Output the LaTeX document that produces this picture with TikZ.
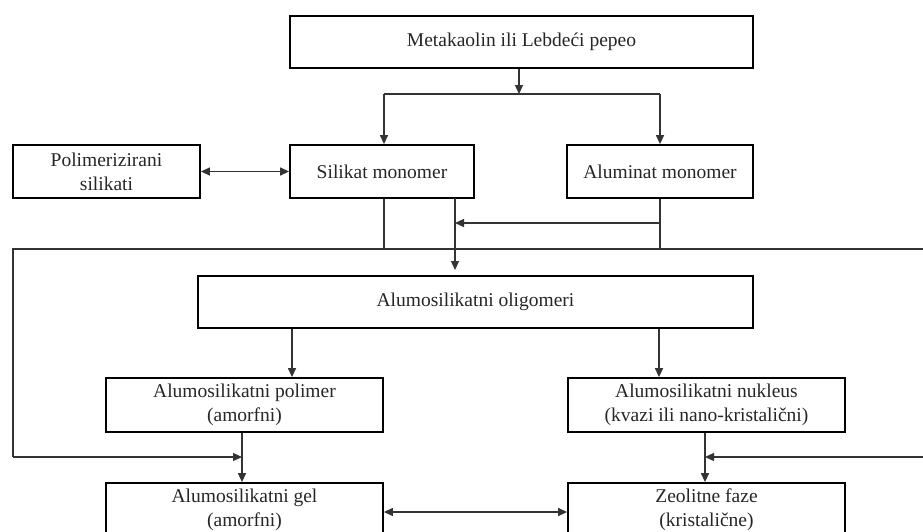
\documentclass[tikz,border=0pt]{standalone}
\usepackage{fontspec}
\setmainfont{Liberation Serif}
\usetikzlibrary{arrows.meta}
\begin{document}
\begin{tikzpicture}[x=1pt,y=-1pt,
  box/.style={draw, line width=1.8pt, rectangle, inner sep=0pt, align=center,
    font=\fontsize{19.5}{24}\selectfont, text=black!85},
  conn/.style={line width=1.3pt, draw=black!80},
  arr/.style={conn, -{Triangle[length=9pt,width=8pt]}},
  darr/.style={conn, {Triangle[length=9pt,width=8pt]}-{Triangle[length=9pt,width=8pt]}}]
\useasboundingbox (0,0) rectangle (923,531);
\clip (0,0) rectangle (923,531);
% nodes
\node[box, minimum width=463pt, minimum height=52pt] (top) at (521.5,42) {Metakaolin ili Lebdeći pepeo};
\node[box, minimum width=187pt, minimum height=53pt] (poli) at (106.5,171.5) {Polimerizirani\\silikati};
\node[box, minimum width=184pt, minimum height=53pt] (sil) at (382,171.5) {Silikat monomer};
\node[box, minimum width=186pt, minimum height=53pt] (alu) at (660,171.5) {Aluminat monomer};
\node[box, minimum width=555pt, minimum height=52pt] (olig) at (475.5,302) {Alumosilikatni oligomeri};
\node[box, minimum width=277pt, minimum height=54pt] (pol) at (244.5,405) {Alumosilikatni polimer\\(amorfni)};
\node[box, minimum width=277pt, minimum height=54pt] (nuk) at (706.5,405) {Alumosilikatni nukleus\\(kvazi ili nano-kristalični)};
\node[box, minimum width=277pt, minimum height=54pt] (gel) at (244.5,510) {Alumosilikatni gel\\(amorfni)};
\node[box, minimum width=277pt, minimum height=54pt] (zeo) at (706.5,510) {Zeolitne faze\\(kristalične)};
% coordinates
\coordinate (j1) at (519,94);
\coordinate (jl) at (384,94);
\coordinate (jr) at (660,94);
\coordinate (s2) at (455,198);
\coordinate (s2e) at (455,270);
\coordinate (a1) at (660,223);
\coordinate (a1e) at (455,223);
\coordinate (busl) at (13,249);
\coordinate (busr) at (935,249);
\coordinate (ll) at (13,457);
\coordinate (lle) at (242,457);
\coordinate (rr) at (935,457);
\coordinate (rre) at (705,457);
% connectors
\draw[arr] (top.south -| j1) -- (j1);
\draw[conn] (jl) -- (jr);
\draw[arr] (jl) -- (jl |- sil.north);
\draw[arr] (jr) -- (jr |- alu.north);
\draw[darr] (poli.east) -- (sil.west);
\draw[conn] (sil.south -| jl) -- (jl |- busl);
\draw[arr] (s2) -- (s2e);
\draw[conn] (alu.south) -- (alu.south |- busl);
\draw[arr] (a1) -- (a1e);
\draw[conn] (busr) -- (busl) -- (ll);
\draw[arr] (ll) -- (lle);
\draw[conn] (busr) -- (rr);
\draw[arr] (rr) -- (rre);
\draw[arr] (olig.south -| 292,0) -- (pol.north -| 292,0);
\draw[arr] (olig.south -| 659,0) -- (nuk.north -| 659,0);
\draw[arr] (pol.south -| lle) -- (gel.north -| lle);
\draw[arr] (nuk.south -| rre) -- (zeo.north -| rre);
\draw[darr] ([yshift=-2pt]gel.east) -- ([yshift=-2pt]zeo.west);
\end{tikzpicture}
\end{document}
